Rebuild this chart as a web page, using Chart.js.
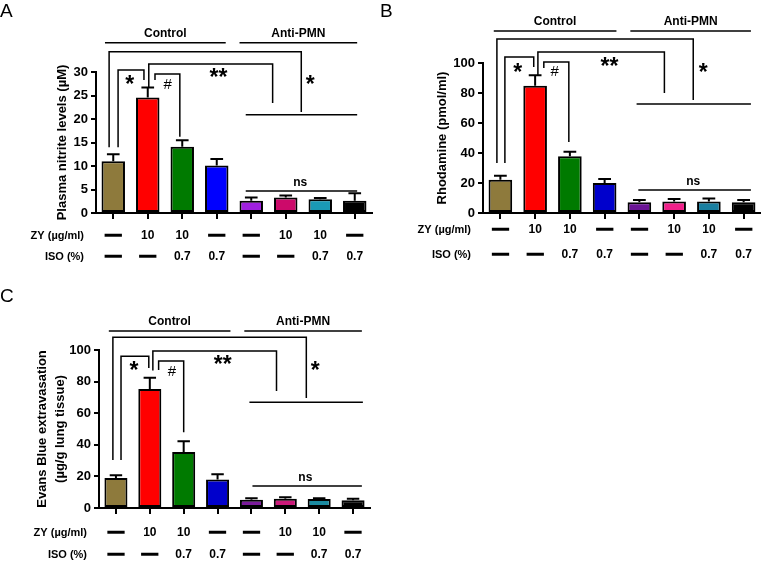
<!DOCTYPE html>
<html>
<head>
<meta charset="utf-8">
<script src="https://cdn.jsdelivr.net/npm/chart.js@4.4.1/dist/chart.umd.min.js"></script>
<style>
    body { margin: 0; background: #fff; }
    .panel { position: absolute; }
</style>
</head>
<body>
<canvas id="chartA" class="panel" width="380" height="280" style="left:0;top:0"></canvas>
<canvas id="chartB" class="panel" width="381" height="280" style="left:380px;top:0"></canvas>
<canvas id="chartC" class="panel" width="380" height="281" style="left:0;top:280px"></canvas>
<script>
// Treatment rows shown under every panel
const zyDose = ['—', '10', '10', '—', '—', '10', '10', '—'];
const isoPct = ['—', '—', '0.7', '0.7', '—', '—', '0.7', '0.7'];
const groupNames = ['Control', 'Anti-PMN'];

// A: plasma nitrite (µM), mean and upper error
const nitriteMean = [11.0, 24.6, 14.1, 10.1, 2.6, 3.3, 2.9, 2.6];
const nitriteErr = [1.5, 2.1, 1.4, 1.4, 0.7, 0.4, 0.3, 1.6];

// B: rhodamine (pmol/ml)
const rhodamineMean = [22.2, 84.9, 37.8, 20.0, 7.1, 7.6, 7.6, 7.1];
const rhodamineErr = [2.7, 6.9, 3.1, 2.7, 1.6, 1.7, 2.0, 1.6];

// C: Evans Blue (µg/g lung tissue)
const evansMean = [19.0, 75.3, 35.5, 18.0, 5.3, 5.9, 5.7, 4.9];
const evansErr = [1.7, 7.2, 6.8, 3.4, 0.8, 0.9, 0.4, 1.0];

// y axis ranges
const nitriteTicks = { max: 30, step: 5 };
const rhodamineTicks = { max: 100, step: 20 };
const evansTicks = { max: 100, step: 20 };

const colorsA = ['#8e7a3c', '#ff0000', '#007a00', '#0000ff', '#a020e0', '#cc0a6a', '#1a99b5', '#000000'];
const colorsB = ['#8e7a3c', '#ff0000', '#007a00', '#0000cc', '#6b1596', '#f0208a', '#197fa0', '#000000'];
const colorsC = ['#8e7a3c', '#ff0000', '#007a00', '#0000cc', '#7a1a9a', '#cc1a7a', '#1a8aa0', '#000000'];

const FONT = "'Liberation Sans', Arial, sans-serif";

const figureNotes = {
    id: 'figureNotes',
    afterDatasetsDraw(chart, args, opts) {
        // upper error bars
        const ctx = chart.ctx;
        const ys = chart.scales.y;
        const meta = chart.getDatasetMeta(0);
        ctx.save();
        ctx.strokeStyle = '#000';
        ctx.lineWidth = 2;
        meta.data.forEach((bar, i) => {
            const top = ys.getPixelForValue(opts.means[i] + opts.errs[i]);
            const half = bar.width * 0.27;
            ctx.beginPath();
            ctx.moveTo(bar.x, bar.y);
            ctx.lineTo(bar.x, top);
            ctx.moveTo(bar.x - half, top);
            ctx.lineTo(bar.x + half, top);
            ctx.stroke();
        });
        ctx.restore();
    },
    afterDraw(chart, args, opts) {
        const ctx = chart.ctx;
        const xs = chart.scales.x;
        const ys = chart.scales.y;
        const area = chart.chartArea;
        const px = v => xs.getPixelForValue(v);
        const py = v => ys.getPixelForValue(v);
        ctx.save();
        ctx.fillStyle = '#000';
        ctx.strokeStyle = '#000';

        // panel letter
        ctx.font = `19px ${FONT}`;
        ctx.textAlign = 'left';
        ctx.textBaseline = 'alphabetic';
        ctx.fillText(opts.letter, 0, opts.letterY);

        // group headers
        ctx.lineWidth = 1.5;
        opts.groups.forEach((g, k) => {
            const y = py(g.y);
            ctx.beginPath();
            ctx.moveTo(px(g.x1), y);
            ctx.lineTo(px(g.x2), y);
            ctx.stroke();
            ctx.font = `bold 12px ${FONT}`;
            ctx.textAlign = 'center';
            ctx.textBaseline = 'middle';
            ctx.fillText(groupNames[k], (px(g.x1) + px(g.x2)) / 2, y - 9);
        });

        // significance brackets
        opts.brackets.forEach(b => {
            ctx.beginPath();
            ctx.moveTo(px(b.x1), py(b.y1));
            ctx.lineTo(px(b.x1), py(b.top));
            ctx.lineTo(px(b.x2), py(b.top));
            ctx.lineTo(px(b.x2), py(b.y2));
            ctx.stroke();
        });
        opts.lines.forEach(l => {
            ctx.beginPath();
            ctx.moveTo(px(l.x1), py(l.y));
            ctx.lineTo(px(l.x2), py(l.y));
            ctx.stroke();
        });
        opts.marks.forEach(m => {
            const x = px(m.x), y = py(m.y);
            ctx.textAlign = 'center';
            if (m.t.startsWith('*')) {
                ctx.font = `bold 23px ${FONT}`;
                ctx.textBaseline = 'alphabetic';
                ctx.fillText(m.t, x, y + 12.5);
            } else if (m.t === '#') {
                ctx.font = `15px ${FONT}`;
                ctx.textBaseline = 'middle';
                ctx.fillText(m.t, x, y);
            } else {
                ctx.font = `bold 12px ${FONT}`;
                ctx.textBaseline = 'middle';
                ctx.fillText(m.t, x, y);
            }
        });

        // treatment rows
        const rows = [
            { name: 'ZY (µg/ml)', vals: zyDose, dy: opts.rowY[0] },
            { name: 'ISO (%)', vals: isoPct, dy: opts.rowY[1] }
        ];
        rows.forEach(r => {
            const y = area.bottom + r.dy;
            ctx.font = `bold 11px ${FONT}`;
            ctx.textAlign = 'right';
            ctx.textBaseline = 'middle';
            ctx.fillText(r.name, area.left - 12, y);
            ctx.textAlign = 'center';
            r.vals.forEach((v, i) => {
                const x = px(i);
                if (v === '—') {
                    ctx.font = `bold 16px ${FONT}`;
                    ctx.lineWidth = 1.3;
                    ctx.fillText(v, x, y);
                    ctx.strokeText(v, x, y);
                } else {
                    ctx.font = `bold 12px ${FONT}`;
                    ctx.fillText(v, x, y);
                }
            });
        });
        ctx.restore();
    }
};

function makePanel(id, cfg) {
    const el = document.getElementById(id);
    const W = el.width, H = el.height;
    const a = cfg.area;
    return new Chart(el, {
        type: 'bar',
        data: {
            labels: zyDose.map((z, i) => z + ' / ' + isoPct[i]),
            datasets: [{
                data: cfg.means,
                backgroundColor: cfg.colors,
                borderColor: '#000',
                borderWidth: 2,
                borderSkipped: false,
                categoryPercentage: 1,
                barPercentage: 0.68
            }]
        },
        options: {
            responsive: false,
            animation: false,
            layout: { padding: { left: cfg.titleLeft, top: a.top, right: W - a.right, bottom: 0 } },
            plugins: {
                legend: { display: false },
                tooltip: { enabled: false },
                figureNotes: cfg
            },
            scales: {
                x: {
                    ticks: { display: false },
                    grid: { offset: false, drawOnChartArea: false, drawTicks: true, tickLength: 6, color: '#000', lineWidth: 2 },
                    border: { color: '#000', width: 2 },
                    afterFit: s => { s.height = H - a.bottom; }
                },
                y: {
                    min: 0,
                    max: cfg.ticks.max,
                    ticks: { stepSize: cfg.ticks.step, color: '#000', padding: 3, font: { family: FONT, size: 13, weight: 'bold' } },
                    grid: { drawOnChartArea: false, tickLength: 5, color: '#000', lineWidth: 2 },
                    border: { color: '#000', width: 2 },
                    title: {
                        display: true,
                        text: cfg.yTitle,
                        color: '#000',
                        padding: 0,
                        font: { family: FONT, size: 13, weight: 'bold', lineHeight: cfg.titleLH || 1.2 }
                    },
                    afterFit: s => { s.width = a.left - cfg.titleLeft; }
                }
            }
        },
        plugins: [figureNotes]
    });
}

makePanel('chartA', {
    letter: 'A', letterY: 17,
    means: nitriteMean, errs: nitriteErr, colors: colorsA, ticks: nitriteTicks,
    yTitle: 'Plasma nitrite levels (µM)', titleLeft: 55,
    area: { left: 96, right: 372, top: 72, bottom: 213 },
    rowY: [23, 44],
    groups: [{ x1: -0.24, x2: 3.26, y: 36.2 }, { x1: 3.66, x2: 7.07, y: 36.2 }],
    brackets: [
        { x1: -0.12, x2: 5.45, top: 34.3, y1: 14, y2: 21.5 },
        { x1: 1.03, x2: 4.62, top: 31.7, y1: 26.8, y2: 23.4 },
        { x1: 0.14, x2: 0.89, top: 30.4, y1: 14, y2: 28.3 },
        { x1: 1.21, x2: 1.93, top: 29.6, y1: 28.3, y2: 16.2 }
    ],
    lines: [{ x1: 3.84, x2: 7.07, y: 20.9 }, { x1: 3.84, x2: 7.07, y: 4.7 }],
    marks: [
        { x: 0.48, y: 28.3, t: '*' }, { x: 3.05, y: 29.8, t: '**' }, { x: 5.71, y: 28.3, t: '*' },
        { x: 1.58, y: 27.2, t: '#' }, { x: 5.42, y: 6.4, t: 'ns' }
    ]
});

makePanel('chartB', {
    letter: 'B', letterY: 17,
    means: rhodamineMean, errs: rhodamineErr, colors: colorsB, ticks: rhodamineTicks,
    yTitle: 'Rhodamine (pmol/ml)', titleLeft: 55,
    area: { left: 103, right: 381, top: 63, bottom: 213 },
    rowY: [17, 42],
    groups: [{ x1: -0.19, x2: 3.34, y: 121.3 }, { x1: 3.74, x2: 7.21, y: 121.3 }],
    brackets: [
        { x1: -0.1, x2: 5.55, top: 116, y1: 33.3, y2: 75.3 },
        { x1: 1.08, x2: 4.72, top: 107.3, y1: 92, y2: 80 },
        { x1: 0.13, x2: 0.96, top: 104, y1: 33.3, y2: 97.3 },
        { x1: 1.25, x2: 1.97, top: 100.7, y1: 96.7, y2: 47.3 }
    ],
    lines: [{ x1: 3.92, x2: 7.21, y: 72.7 }, { x1: 3.97, x2: 7.21, y: 15.3 }],
    marks: [
        { x: 0.5, y: 97.3, t: '*' }, { x: 3.14, y: 100.7, t: '**' }, { x: 5.84, y: 97.3, t: '*' },
        { x: 1.56, y: 94, t: '#' }, { x: 5.55, y: 20.7, t: 'ns' }
    ]
});

makePanel('chartC', {
    letter: 'C', letterY: 22,
    means: evansMean, errs: evansErr, colors: colorsC, ticks: evansTicks,
    yTitle: ['Evans Blue extravasation', '(µg/g lung tissue)'], titleLeft: 33, titleLH: 1.4,
    area: { left: 99, right: 370, top: 70, bottom: 228 },
    rowY: [25, 47],
    groups: [{ x1: -0.21, x2: 3.38, y: 112 }, { x1: 3.79, x2: 7.26, y: 112 }],
    brackets: [
        { x1: -0.09, x2: 5.62, top: 108, y1: 30.4, y2: 69.6 },
        { x1: 1.09, x2: 4.74, top: 99.4, y1: 87, y2: 74 },
        { x1: 0.15, x2: 0.97, top: 96, y1: 30.4, y2: 88.6 },
        { x1: 1.26, x2: 2.0, top: 93, y1: 87.3, y2: 48 }
    ],
    lines: [{ x1: 3.94, x2: 7.29, y: 67 }, { x1: 4.03, x2: 7.26, y: 13.9 }],
    marks: [
        { x: 0.53, y: 90.5, t: '*' }, { x: 3.15, y: 93.7, t: '**' }, { x: 5.88, y: 89.9, t: '*' },
        { x: 1.65, y: 86, t: '#' }, { x: 5.59, y: 19, t: 'ns' }
    ]
});
</script>
</body>
</html>
